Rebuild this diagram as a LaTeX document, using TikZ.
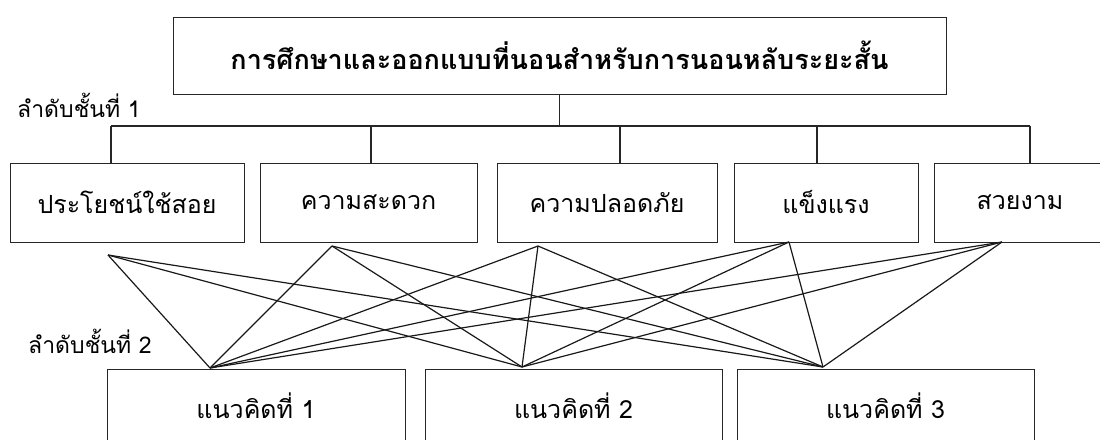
\documentclass[tikz,border=0pt]{standalone}
\usepackage{fontspec}
\newfontfamily\thaifont[Script=Thai]{Loma}
\usepackage{tikz}
\usetikzlibrary{calc,positioning}
\tikzset{
 ahp box/.style={draw=black!85,line width=.9pt,inner sep=0pt,outer sep=0pt,
                 font=\thaifont\fontsize{25}{29}\selectfont},
 ahp goal/.style={ahp box,font=\thaifont\bfseries\fontsize{27}{32}\selectfont},
 ahp bus/.style={line width=1.1pt,black!85},
 ahp link/.style={line width=1.2pt,black!90},
 ahp level/.style={font=\thaifont\fontsize{23}{27}\selectfont,anchor=west,inner sep=0pt}
}
\begin{document}
\begin{tikzpicture}[x=1pt,y=-1pt]
 \useasboundingbox (0,0) rectangle (1100,439);
 % goal on top, five criteria in the middle, three alternatives at the bottom
 \node[ahp goal,minimum width=773pt,minimum height=77pt] (goal) at (559.5,55.5)
   {การศึกษาและออกแบบที่นอนสำหรับการนอนหลับระยะสั้น};

 \node[ahp box,minimum width=234pt,minimum height=79pt] (c1) at (127,202.5) {ประโยชน์ใช้สอย};
 \node[ahp box,minimum width=217pt,minimum height=79pt] (c2) at (368.5,202.5) {ความสะดวก};
 \node[ahp box,minimum width=220pt,minimum height=79pt] (c3) at (607,202.5) {ความปลอดภัย};
 \node[ahp box,minimum width=184pt,minimum height=79pt] (c4) at (826,202.5) {แข็งแรง};
 \node[ahp box,minimum width=172pt,minimum height=79pt] (c5) at (1020,202.5) {สวยงาม};

 \node[ahp box,minimum width=298pt,minimum height=74pt] (g1) at (256,406) {แนวคิดที่ 1};
 \node[ahp box,minimum width=297pt,minimum height=74pt] (g2) at (573.5,406) {แนวคิดที่ 2};
 \node[ahp box,minimum width=297pt,minimum height=74pt] (g3) at (885.5,406) {แนวคิดที่ 3};

 \node[ahp level] (lv1) at (17,105) {ลำดับชั้นที่ 1};
 \node[ahp level] (lv2) at (28,341) {ลำดับชั้นที่ 2};

 % the tree from the goal down to the criteria
 \coordinate (d1) at (111,126);
 \coordinate (d2) at (371,126);
 \coordinate (d3) at (620,126);
 \coordinate (d4) at (817,126);
 \coordinate (d5) at (1030,126);
 \draw[ahp bus] (goal.south) -- (goal.south |- d1);
 \draw[ahp bus] (d1) -- (d5);
 \foreach \i in {1,...,5} \draw[ahp bus] (d\i) -- (d\i |- c\i.north);

 % every criterion is tied to every alternative
 \coordinate (a1) at (108,255);
 \coordinate (a2) at (332,246);
 \coordinate (a3) at (538,246);
 \coordinate (a4) at (789,242);
 \coordinate (a5) at (1002,242);
 \coordinate (b1) at (210,368);
 \coordinate (b2) at (522,367);
 \coordinate (b3) at (823,367);
 \foreach \i in {1,...,5}
  \foreach \j in {1,2,3}
   \draw[ahp link,line join=miter] (a\i) -- (b\j);
\end{tikzpicture}
\end{document}
